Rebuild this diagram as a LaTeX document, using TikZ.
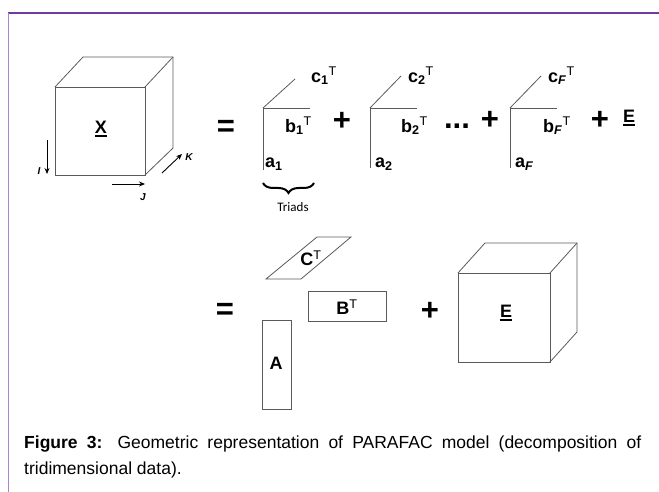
\documentclass[tikz,border=0pt]{standalone}
\usepackage{fontspec}
\setmainfont{Liberation Sans}
\newfontfamily\calibrifont{Carlito}
\usetikzlibrary{arrows.meta, decorations.pathreplacing}
\definecolor{frameTop}{HTML}{6E3CA0}
\definecolor{frameSide}{HTML}{A884D2}
\definecolor{lineGray}{HTML}{5A5A5A}
\newcommand{\bul}[1]{\leavevmode\vtop{\hbox{#1}\kern1.5pt\hrule height 2pt}}

\begin{document}
\begin{tikzpicture}[x=1pt, y=-1pt, >=Stealth,
    edge/.style={draw=lineGray, line width=0.8pt},
    sym/.style={font=\fontsize{18}{18}\selectfont\bfseries, inner sep=0pt},
    op/.style={font=\fontsize{31}{31}\selectfont\bfseries, inner sep=0pt},
    dim/.style={font=\fontsize{10}{10}\selectfont\itshape\bfseries, inner sep=0pt},
    axis/.style={->, line width=0.9pt, >={Stealth[length=6pt, width=5pt]}},
  ]
    \useasboundingbox (0,0) rectangle (659,492);

    % frame
    \draw[frameTop, line width=1.6pt] (8,13) -- (659,13);
    \draw[frameSide, line width=1.6pt] (8.6,13) -- (8.6,492);

    % X cube
    \draw[edge] (55,87) rectangle (145,175);
    \draw[edge] (55,87) -- (83,57) -- (173,57) -- (173,148) -- (145,175);
    \draw[edge] (145,87) -- (173,57);
    \node[sym] (X) at (101,129) {\bul{X}};

    % modes I, J, K
    \coordinate (iTop) at (47,140);
    \coordinate (iBot) at (47,174);
    \coordinate (jL) at (112,184);
    \coordinate (jR) at (145,184);
    \coordinate (kL) at (162,173);
    \coordinate (kR) at (182,154);
    \draw[axis] (iTop) -- (iBot);
    \draw[axis] (jL) -- (jR);
    \draw[axis] (kL) -- (kR);
    \node[dim] (I) at (39,171) {I};
    \node[dim] (J) at (143,197) {J};
    \node[dim] (K) at (189,157) {K};

    \node[op] (eq1) at (226,128) {=};

    % triad 1
    \coordinate (o1) at (263,108);
    \coordinate (a1) at (263,170);
    \coordinate (b1) at (310,108);
    \coordinate (c1) at (295,79);
    \draw[edge] (a1) -- (o1) -- (b1);
    \draw[edge] (o1) -- (c1);
    \node[sym, anchor=west] (c1T) at (311,76) {c\textsubscript{1}\textsuperscript{\mdseries T}};
    \node[sym, anchor=west] (b1T) at (285,126) {b\textsubscript{1}\textsuperscript{\mdseries T}};
    \node[sym, anchor=west] (a1L) at (265,164) {a\textsubscript{1}};
    \coordinate (brL) at (263,183);
    \coordinate (brR) at (314,183);
    \draw[decorate, decoration={brace, mirror, amplitude=10pt}, line width=2pt] (brL) -- (brR);
    \node[font=\calibrifont\fontsize{13}{13}\selectfont] (triads) at (293,207) {Triads};

    \node[op] (p1) at (342,121) {+};

    % triad 2
    \coordinate (o2) at (370,108);
    \coordinate (a2) at (370,168);
    \coordinate (b2) at (417,108);
    \coordinate (c2) at (401,76);
    \draw[edge] (a2) -- (o2) -- (b2);
    \draw[edge] (o2) -- (c2);
    \node[sym, anchor=west] (c2T) at (408,76) {c\textsubscript{2}\textsuperscript{\mdseries T}};
    \node[sym, anchor=west] (b2T) at (401,126) {b\textsubscript{2}\textsuperscript{\mdseries T}};
    \node[sym, anchor=west] (a2L) at (375,164) {a\textsubscript{2}};

    \node[op] (dots) at (457,126) {...};
    \node[op] (p2) at (490,120) {+};

    % triad F
    \coordinate (oF) at (510,108);
    \coordinate (aF) at (510,168);
    \coordinate (bF) at (557,108);
    \coordinate (cF) at (541,76);
    \draw[edge] (aF) -- (oF) -- (bF);
    \draw[edge] (oF) -- (cF);
    \node[sym, anchor=west] (cFT) at (548,76) {c\textsubscript{\textit{F}}\textsuperscript{\mdseries T}};
    \node[sym, anchor=west] (bFT) at (543,126) {b\textsubscript{\textit{F}}\textsuperscript{\mdseries T}};
    \node[sym, anchor=west] (aFL) at (515,164) {a\textsubscript{\textit{F}}};

    \node[op] (p3) at (600,120) {+};
    \node[sym] (E1) at (629,118) {\bul{E}};

    % factor matrices
    \node[op] (eq2) at (225,311) {=};
    \draw[edge] (266,279) -- (301,279) -- (351,237) -- (317,237) -- cycle;
    \node[sym] (CT) at (311,258) {C\textsuperscript{\mdseries T}};
    \draw[edge] (308,291) rectangle (386,321);
    \node[sym] (BT) at (347,307) {B\textsuperscript{\mdseries T}};
    \draw[edge] (262,320) rectangle (291,409);
    \node[sym] (A) at (276,363) {A};

    \node[op] (p4) at (430,311) {+};

    % E cube
    \draw[edge] (458,273) rectangle (550,362);
    \draw[edge] (458,273) -- (485,243) -- (577,243) -- (577,332) -- (550,362);
    \draw[edge] (550,273) -- (577,243);
    \node[sym] (E2) at (506,313) {\bul{E}};

    % caption
    \node[anchor=north west, text width=617pt, align=justify, inner sep=0pt,
          font=\fontsize{17.5}{26}\selectfont] (cap) at (24,436)
      {\textbf{Figure 3:} Geometric representation of PARAFAC model (decomposition of \mbox{tridimensional} data).};
  \end{tikzpicture}
\end{document}
